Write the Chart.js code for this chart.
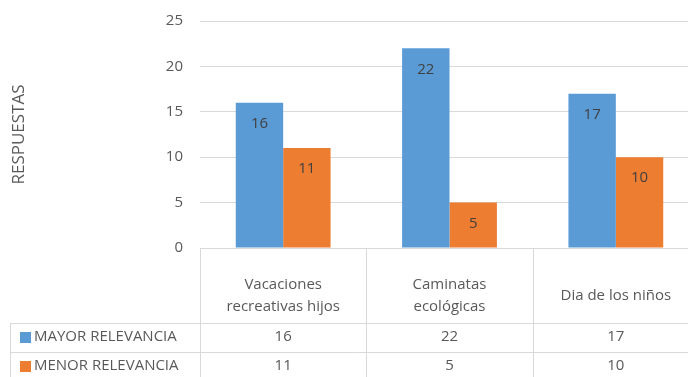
<!DOCTYPE html>
<html>
<head>
<meta charset="utf-8">
<script src="https://cdn.jsdelivr.net/npm/chart.js@4/dist/chart.umd.min.js"></script>
<style>
  html, body { margin: 0; padding: 0; background: #fff; overflow: hidden; }
  #wrap { width: 700px; height: 377px; }
</style>
</head>
<body>
<div id="wrap"><canvas id="grafico" width="700" height="377"></canvas></div>
<script>
let categorias = [["Vacaciones", "recreativas hijos"], ["Caminatas", "ecológicas"], ["Dia de los niños"]]
let mayorRelevancia = [16, 22, 17]
let menorRelevancia = [11, 5, 10]
let nomesSeries = ["MAYOR RELEVANCIA", "MENOR RELEVANCIA"]
let coresSeries = ["#5b9bd5", "#ed7d31"]

let corTexto = "#595959";
let corLinha = "#d9d9d9";
let fonte = "'Open Sans', sans-serif";

// numeros dentro das barras
const rotulosBarras = {
  id: "rotulosBarras",
  afterDatasetsDraw(chart) {
    let ctx = chart.ctx;
    ctx.save();
    ctx.font = "15px " + fonte;
    ctx.fillStyle = "#404040";
    ctx.textAlign = "center";
    ctx.textBaseline = "middle";
    chart.data.datasets.forEach((ds, i) => {
      chart.getDatasetMeta(i).data.forEach((bar, j) => {
        ctx.fillText(ds.data[j], bar.x, bar.y + 21);
      });
    });
    ctx.restore();
  }
};

// tabela de dados embaixo do grafico
const tabelaDados = {
  id: "tabelaDados",
  afterDraw(chart) {
    let ctx = chart.ctx;
    let x = chart.scales.x;
    let area = chart.chartArea;
    let topo = area.bottom;
    let linha1 = topo + 75;
    let linha2 = linha1 + 29;
    let fim = chart.height + 5;
    let esquerda = 10;
    let passo = x.getPixelForValue(1) - x.getPixelForValue(0);

    ctx.save();
    ctx.strokeStyle = corLinha;
    ctx.lineWidth = 1;
    ctx.beginPath();
    for (let i = 0; i <= categorias.length; i++) {
      let px = Math.round(x.getPixelForValue(i) - passo / 2) + 0.5;
      ctx.moveTo(px, topo);
      ctx.lineTo(px, fim);
    }
    ctx.moveTo(esquerda + 0.5, linha1);
    ctx.lineTo(esquerda + 0.5, fim);
    [linha1, linha2].forEach(y => {
      ctx.moveTo(esquerda, y + 0.5);
      ctx.lineTo(area.right, y + 0.5);
    });
    ctx.stroke();

    ctx.font = "15px " + fonte;
    ctx.fillStyle = corTexto;
    ctx.textAlign = "center";
    ctx.textBaseline = "middle";
    categorias.forEach((cat, i) => {
      let cx = x.getPixelForValue(i);
      let meio = topo + 48;
      cat.forEach((txt, k) => {
        ctx.fillText(txt, cx, meio + (k - (cat.length - 1) / 2) * 22);
      });
    });

    let linhas = [linha1, linha2];
    chart.data.datasets.forEach((ds, i) => {
      let y = linhas[i] + 14;
      ctx.fillStyle = coresSeries[i];
      ctx.fillRect(esquerda + 10, y - 5, 11, 11);
      ctx.fillStyle = corTexto;
      ctx.textAlign = "left";
      ctx.fillText(nomesSeries[i], esquerda + 24, y);
      ctx.textAlign = "center";
      ds.data.forEach((v, j) => {
        ctx.fillText(v, x.getPixelForValue(j), y);
      });
    });
    ctx.restore();
  }
};

new Chart(document.getElementById("grafico"), {
  type: "bar",
  data: {
    labels: categorias,
    datasets: [
      { label: nomesSeries[0], data: mayorRelevancia, backgroundColor: coresSeries[0] },
      { label: nomesSeries[1], data: menorRelevancia, backgroundColor: coresSeries[1] }
    ]
  },
  options: {
    responsive: false,
    animation: false,
    layout: { padding: { top: 21, right: 1, bottom: 129, left: 0 } },
    plugins: { legend: { display: false }, tooltip: { enabled: false } },
    datasets: { bar: { categoryPercentage: 0.57, barPercentage: 1 } },
    scales: {
      x: {
        grid: { display: false },
        border: { display: true, color: corLinha },
        ticks: { display: false },
        afterFit(scale) { scale.height = 0; scale.paddingLeft = 0; scale.paddingRight = 0; }
      },
      y: {
        min: 0,
        max: 25,
        ticks: { stepSize: 5, padding: 17, color: corTexto, font: { family: fonte, size: 15 } },
        grid: { color: corLinha, drawTicks: false },
        border: { display: false },
        title: {
          display: true,
          text: "RESPUESTAS",
          color: corTexto,
          font: { family: fonte, size: 17 },
          padding: { top: 9, bottom: 0 }
        },
        afterFit(scale) { scale.width = 200; scale.paddingTop = 0; scale.paddingBottom = 0; }
      }
    }
  },
  plugins: [rotulosBarras, tabelaDados]
});
</script>
</body>
</html>
